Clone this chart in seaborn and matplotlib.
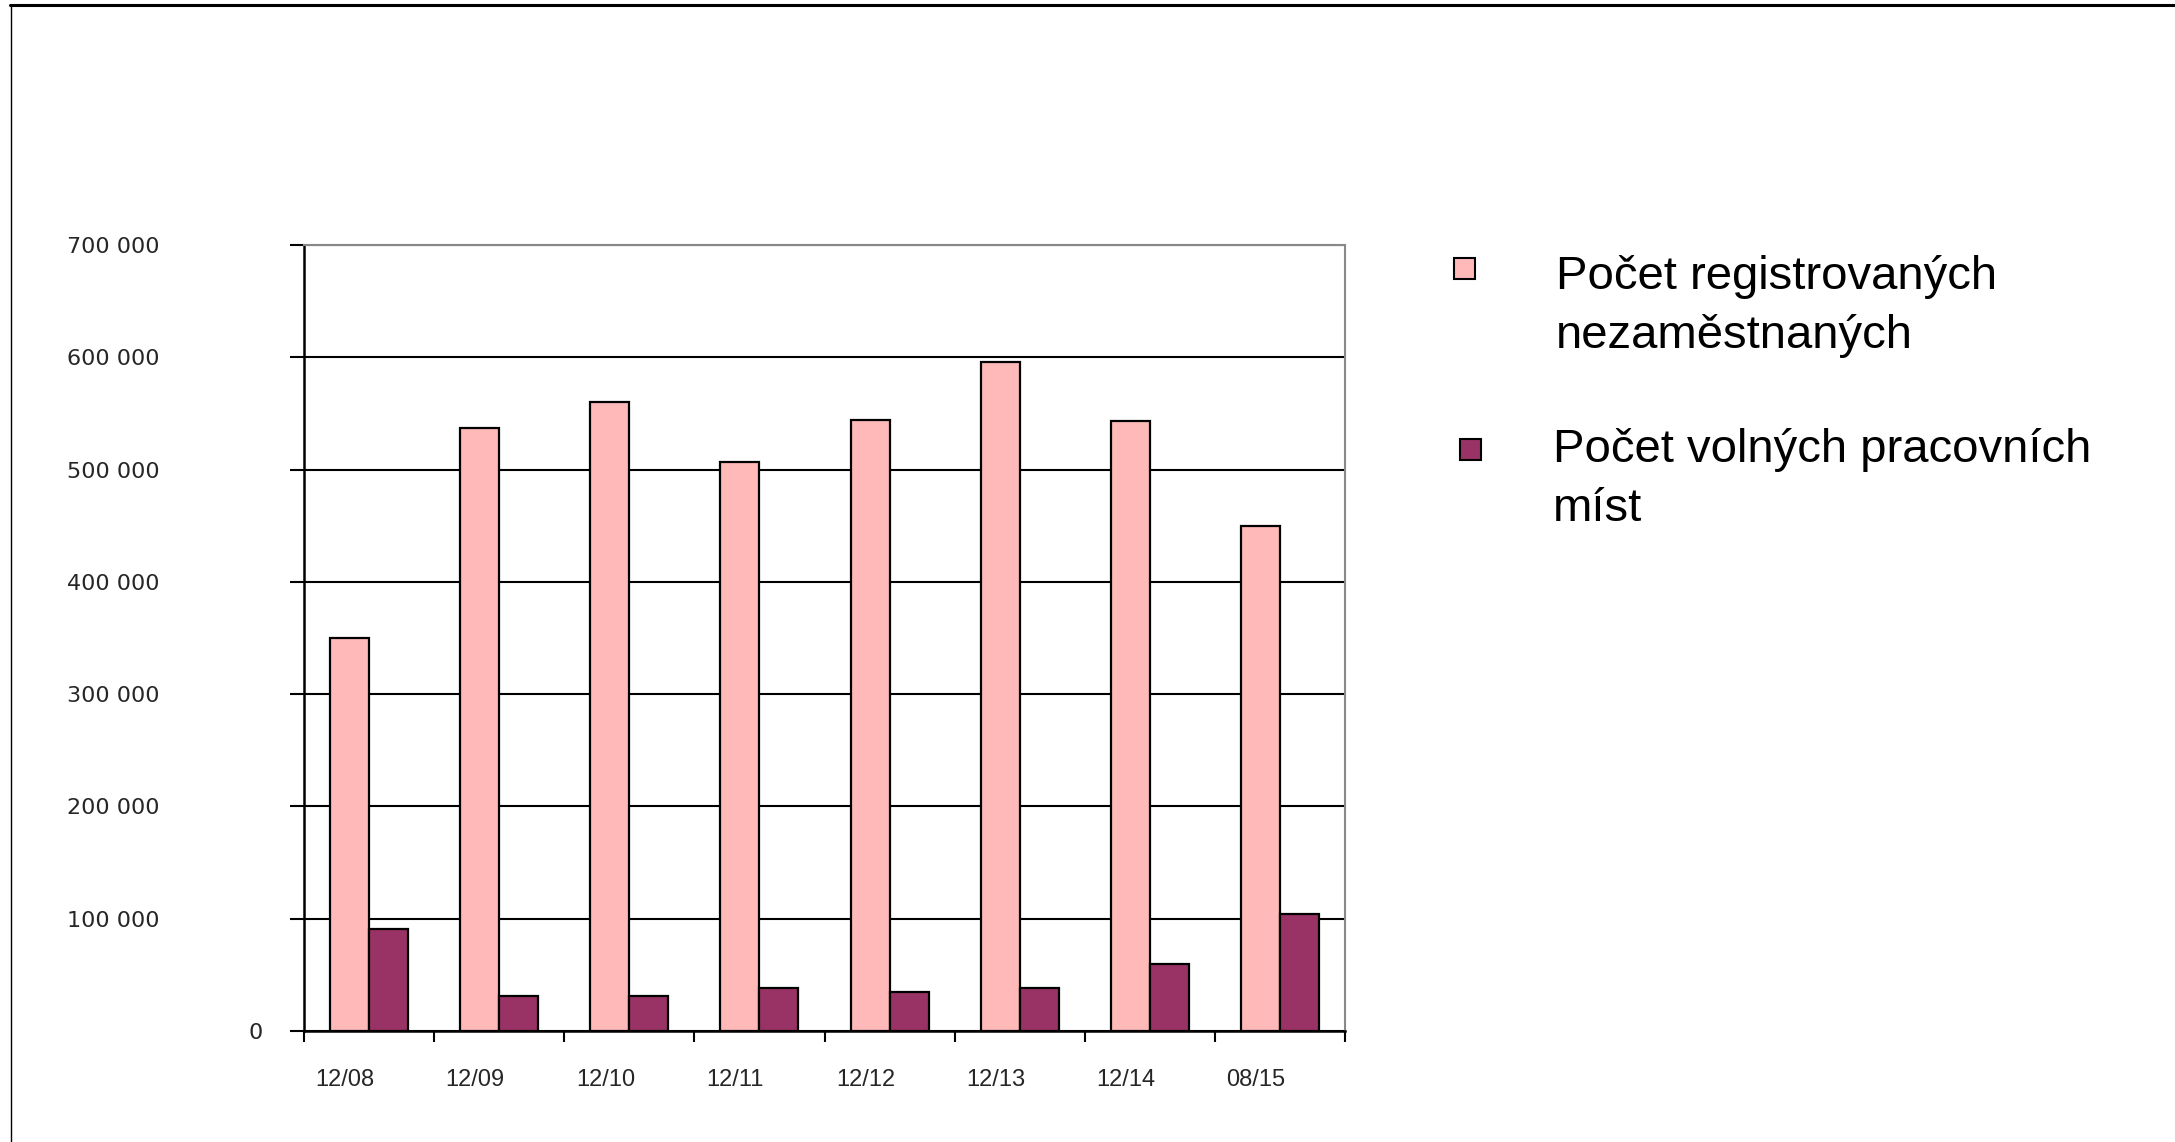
import numpy as np
import pandas as pd
import matplotlib
matplotlib.use("Agg")
import matplotlib.pyplot as plt
import seaborn as sns
from matplotlib.patches import Rectangle
from matplotlib.lines import Line2D
from matplotlib.transforms import ScaledTranslation

# Data
periods = ["12/08", "12/09", "12/10", "12/11", "12/12", "12/13", "12/14", "08/15"]
unemployed = [350000, 537000, 560000, 507000, 544000, 596000, 543000, 450000]
vacancies = [91000, 31000, 31000, 38000, 35000, 38000, 60000, 104000]

series_names = ["Počet registrovaných\nnezaměstnaných", "Počet volných pracovních\nmíst"]
series_colors = ["#FFB9B9", "#993366"]

yticks = [0, 100000, 200000, 300000, 400000, 500000, 600000, 700000]
ytick_labels = ["0", "100 000", "200 000", "300 000", "400 000", "500 000", "600 000", "700 000"]

df = pd.DataFrame({
    "period": periods * 2,
    "series": [series_names[0]] * len(periods) + [series_names[1]] * len(periods),
    "value": unemployed + vacancies,
})

sns.set_style("white")

W, H, DPI = 2175, 1142, 100
fig = plt.figure(figsize=(W / DPI, H / DPI), dpi=DPI)
ax = fig.add_axes([304 / W, 1 - 1031 / H, (1345 - 304) / W, (1031 - 245) / H])

sns.barplot(data=df, x="period", y="value", hue="series", hue_order=series_names,
            palette=dict(zip(series_names, series_colors)), width=0.6,
            edgecolor="black", linewidth=1.6, saturation=1, legend=False,
            errorbar=None, ax=ax, zorder=3)

ax.set_xlim(-0.5, len(periods) - 0.5)
ax.set_ylim(0, 700000)
ax.set_xlabel("")
ax.set_ylabel("")

# gridlines
ax.set_yticks(yticks)
ax.set_yticklabels(ytick_labels, family="DejaVu Sans", fontsize=16)
ax.yaxis.grid(True, color="black", linewidth=1.5, zorder=0)
ax.set_axisbelow(True)
ax.tick_params(axis="y", direction="out", length=10, width=1.5, color="black", pad=94, left=True)
ax.yaxis.get_major_ticks()[0].set_pad(20)

# x: labels at centres (shifted left like the original), ticks at category borders
ax.set_xticks(range(len(periods)))
ax.set_xticklabels(periods, family="Liberation Sans", fontsize=17)
ax.tick_params(axis="x", which="major", length=0, pad=27)
ax.set_xticks(np.arange(-0.5, len(periods)), minor=True)
ax.tick_params(axis="x", which="minor", direction="out", length=8, width=1.5, color="black", bottom=True)
for lab in ax.get_xticklabels():
    lab.set_transform(lab.get_transform() + ScaledTranslation(-0.24, 0, fig.dpi_scale_trans))

for side in ["left", "bottom"]:
    ax.spines[side].set_color("black")
    ax.spines[side].set_linewidth(1.8)
for side in ["top", "right"]:
    ax.spines[side].set_color("#888888")
    ax.spines[side].set_linewidth(1.5)

# legend drawn by hand (markers sit next to the first line of each label)
# (marker x, marker y, text x, baseline of last text line) in pixels from top-left
leg_items = [
    (1464, 268, 1556, 348),
    (1470, 449, 1553, 521),
]
for (mx, my, tx, ty), name, col in zip(leg_items, series_names, series_colors):
    s = 21
    fig.add_artist(Rectangle(((mx - s / 2) / W, 1 - (my + s / 2) / H), s / W, s / H,
                             transform=fig.transFigure, facecolor=col,
                             edgecolor="black", linewidth=1.5))
    fig.text(tx / W, 1 - ty / H, name, family="Liberation Sans", fontsize=34,
             va="baseline", ha="left", linespacing=1.45, color="black")

# slide frame
fig.add_artist(Line2D([10 / W, 1], [1 - 5 / H, 1 - 5 / H], transform=fig.transFigure,
                      color="black", linewidth=2.2))
fig.add_artist(Line2D([11 / W, 11 / W], [0, 1 - 5 / H], transform=fig.transFigure,
                      color="black", linewidth=1.0))

fig.savefig("out.png", dpi=DPI)
